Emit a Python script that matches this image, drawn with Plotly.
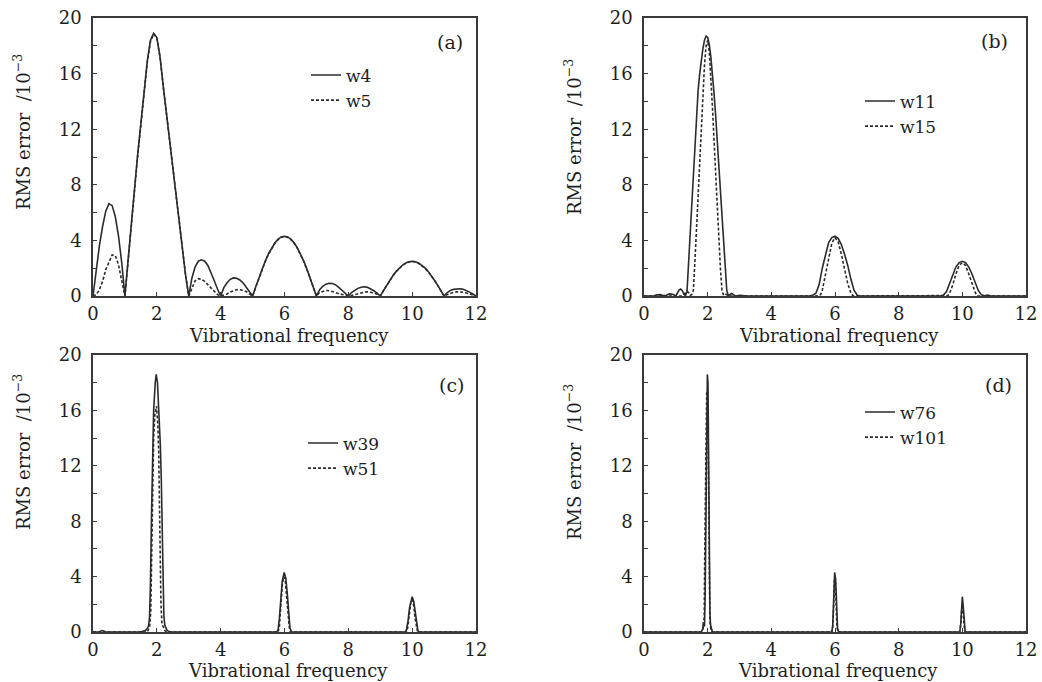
import numpy as np
import plotly.graph_objects as go
from plotly.subplots import make_subplots

# ---------------- data ----------------
# (a) sampled on a regular 0.1 frequency grid
FREQ_GRID = np.round(np.arange(0, 12.01, 0.1), 1)

W4 = [
    0, 1.9, 3.6, 5.0, 6.1, 6.65, 6.5, 5.7, 4.3, 2.4, 0,
    2.6, 5.3, 7.9, 10.2, 12.4, 14.6, 16.9, 18.4, 18.9, 18.6,
    17.2, 15.1, 13.1, 11.1, 9.2, 7.3, 5.3, 3.4, 1.5, 0,
    1.3, 2.1, 2.5, 2.6, 2.5, 2.2, 1.7, 1.1, 0.5, 0,
    0.6, 0.95, 1.2, 1.3, 1.28, 1.15, 0.95, 0.65, 0.3, 0,
    0.67, 1.33, 1.95, 2.53, 3.04, 3.48, 3.83, 4.09, 4.25, 4.3,
    4.25, 4.09, 3.83, 3.48, 3.04, 2.53, 1.95, 1.33, 0.67, 0,
    0.45, 0.7, 0.85, 0.92, 0.9, 0.8, 0.62, 0.42, 0.2, 0,
    0.25, 0.42, 0.55, 0.63, 0.66, 0.62, 0.52, 0.38, 0.2, 0,
    0.39, 0.77, 1.13, 1.47, 1.77, 2.02, 2.23, 2.38, 2.47, 2.5,
    2.47, 2.38, 2.23, 2.02, 1.77, 1.47, 1.13, 0.77, 0.39, 0,
    0.25, 0.4, 0.48, 0.52, 0.52, 0.48, 0.4, 0.28, 0.14, 0,
]
W5 = [
    0, 0.1, 0.45, 1.05, 1.9, 2.5, 2.95, 2.9, 2.25, 1.1, 0,
    2.5, 5.2, 7.8, 10.1, 12.3, 14.5, 16.8, 18.3, 18.85, 18.55,
    17.2, 15.1, 13.1, 11.1, 9.2, 7.3, 5.3, 3.4, 1.5, 0,
    0.6, 1.1, 1.25, 1.2, 1.05, 0.8, 0.55, 0.3, 0.1, 0,
    0.05, 0.15, 0.28, 0.38, 0.45, 0.47, 0.42, 0.32, 0.15, 0,
    0.65, 1.3, 1.92, 2.5, 3.0, 3.44, 3.8, 4.06, 4.22, 4.27,
    4.22, 4.06, 3.8, 3.44, 3.0, 2.5, 1.92, 1.3, 0.65, 0,
    0.25, 0.35, 0.4, 0.38, 0.33, 0.25, 0.17, 0.1, 0.04, 0,
    0.04, 0.1, 0.17, 0.24, 0.28, 0.3, 0.28, 0.22, 0.12, 0,
    0.38, 0.76, 1.12, 1.46, 1.76, 2.0, 2.2, 2.35, 2.45, 2.48,
    2.45, 2.35, 2.2, 2.0, 1.76, 1.46, 1.12, 0.76, 0.38, 0,
    0.1, 0.2, 0.27, 0.3, 0.3, 0.27, 0.22, 0.15, 0.07, 0,
]

# (b)-(d) as (frequency, error) pairs
W11 = [
    (0, 0), (0.3, 0), (0.4, 0.08), (0.5, 0.1), (0.6, 0.03), (0.7, 0.05), (0.8, 0.15),
    (0.9, 0.12), (1.0, 0), (1.05, 0.2), (1.1, 0.42), (1.15, 0.5), (1.2, 0.4), (1.25, 0.15),
    (1.3, 0.02), (1.35, 0.3), (1.4, 2.4), (1.45, 4.9), (1.5, 7.3), (1.55, 9.4), (1.6, 11.4),
    (1.65, 13.2), (1.7, 14.8), (1.75, 16.0), (1.8, 17.0), (1.85, 17.8), (1.9, 18.4),
    (1.95, 18.7), (2.0, 18.6), (2.05, 18.1), (2.1, 17.2), (2.15, 16.1), (2.2, 14.6),
    (2.25, 13.0), (2.3, 11.2), (2.35, 9.5), (2.4, 7.7), (2.45, 5.8), (2.5, 3.9), (2.55, 1.9),
    (2.6, 0.4), (2.65, 0.02), (2.7, 0.12), (2.75, 0.18), (2.8, 0.12), (2.85, 0.02), (2.9, 0),
    (3.0, 0.05), (3.1, 0.04), (3.2, 0),
    (5.2, 0), (5.3, 0.05), (5.4, 0.2), (5.5, 0.8), (5.6, 2.0), (5.7, 3.0), (5.8, 3.85),
    (5.9, 4.2), (6.0, 4.3), (6.1, 4.15), (6.2, 3.7), (6.3, 3.0), (6.4, 2.2), (6.5, 1.2),
    (6.6, 0.4), (6.7, 0.05), (6.8, 0),
    (9.3, 0), (9.4, 0.05), (9.5, 0.3), (9.6, 0.9), (9.7, 1.5), (9.8, 2.1), (9.9, 2.4),
    (10.0, 2.5), (10.1, 2.4), (10.2, 2.1), (10.3, 1.6), (10.4, 1.0), (10.5, 0.4),
    (10.6, 0.08), (10.7, 0.02), (10.8, 0.06), (10.9, 0), (12, 0),
]
W15 = [
    (0, 0), (1.2, 0), (1.25, 0.1), (1.3, 0.25), (1.35, 0.35), (1.4, 0.25), (1.45, 0.05),
    (1.5, 0.1), (1.55, 0.4), (1.6, 2.5), (1.65, 5.0), (1.7, 7.6), (1.75, 10.0), (1.8, 12.4),
    (1.85, 14.6), (1.9, 16.6), (1.95, 18.0), (2.0, 18.4), (2.05, 17.6), (2.1, 15.8),
    (2.15, 13.6), (2.2, 11.2), (2.25, 8.8), (2.3, 6.4), (2.35, 4.1), (2.4, 2.0), (2.45, 0.4),
    (2.5, 0.05), (2.55, 0.12), (2.6, 0.1), (2.65, 0.02), (2.7, 0),
    (5.4, 0), (5.5, 0.05), (5.55, 0.1), (5.6, 0.4), (5.7, 1.5), (5.8, 2.8), (5.9, 3.8),
    (6.0, 4.2), (6.1, 3.9), (6.2, 3.0), (6.3, 1.9), (6.4, 0.9), (6.5, 0.2), (6.55, 0.05), (6.6, 0),
    (9.5, 0), (9.55, 0.03), (9.6, 0.2), (9.7, 0.8), (9.8, 1.6), (9.9, 2.2), (10.0, 2.4),
    (10.1, 2.2), (10.2, 1.6), (10.3, 0.9), (10.4, 0.3), (10.45, 0.05), (10.5, 0), (12, 0),
]
W39 = [
    (0, 0), (0.2, 0), (0.25, 0.08), (0.3, 0.1), (0.35, 0.05), (0.4, 0),
    (1.5, 0), (1.6, 0.05), (1.65, 0.12), (1.7, 0.25), (1.74, 0.45), (1.77, 1.0), (1.8, 3.5),
    (1.83, 8.0), (1.86, 12.0), (1.9, 16.0), (1.95, 18.0), (1.98, 18.6), (2.02, 18.0),
    (2.07, 16.0), (2.11, 13.5), (2.14, 11.0), (2.16, 8.0), (2.19, 4.0), (2.22, 1.2),
    (2.25, 0.5), (2.28, 0.3), (2.32, 0.12), (2.38, 0.03), (2.45, 0),
    (5.75, 0), (5.8, 0.15), (5.84, 1.0), (5.88, 2.4), (5.93, 3.7), (5.99, 4.3), (6.04, 3.9),
    (6.09, 2.7), (6.13, 1.4), (6.17, 0.3), (6.22, 0),
    (9.78, 0), (9.82, 0.15), (9.87, 0.8), (9.92, 1.8), (9.97, 2.45), (10.0, 2.55),
    (10.05, 2.2), (10.1, 1.4), (10.14, 0.5), (10.18, 0.1), (10.22, 0), (12, 0),
]
W51 = [
    (0, 0), (1.7, 0), (1.74, 0.2), (1.78, 0.5), (1.81, 1.5), (1.84, 5.0), (1.87, 10.0),
    (1.9, 14.0), (1.94, 15.8), (1.99, 16.3), (2.03, 15.0), (2.06, 13.0), (2.08, 9.5),
    (2.1, 6.0), (2.13, 2.0), (2.16, 0.6), (2.2, 0.3), (2.25, 0.1), (2.3, 0),
    (5.8, 0), (5.84, 0.4), (5.88, 1.8), (5.93, 3.4), (5.98, 4.0), (6.03, 3.6), (6.08, 2.2),
    (6.12, 0.8), (6.16, 0.1), (6.2, 0),
    (9.82, 0), (9.86, 0.3), (9.91, 1.3), (9.96, 2.2), (10.0, 2.35), (10.05, 1.9),
    (10.09, 1.0), (10.13, 0.3), (10.17, 0), (12, 0),
]
W76 = [
    (0, 0), (1.8, 0), (1.84, 0.2), (1.87, 0.7), (1.9, 0.4), (1.92, 2.5), (1.95, 9.0),
    (1.97, 15.5), (1.99, 18.6), (2.01, 18.0), (2.03, 12.0), (2.05, 5.0), (2.07, 1.5),
    (2.09, 0.5), (2.12, 0.3), (2.15, 0),
    (5.9, 0), (5.93, 0.5), (5.96, 2.5), (5.99, 4.3), (6.02, 3.8), (6.05, 1.5), (6.08, 0.3), (6.11, 0),
    (9.92, 0), (9.95, 0.6), (9.98, 2.2), (10.0, 2.55), (10.03, 1.8), (10.06, 0.4), (10.09, 0),
    (12, 0),
]
W101 = [
    (0, 0), (1.82, 0), (1.86, 0.3), (1.89, 1.0), (1.91, 6.0), (1.94, 13.8), (1.97, 17.3),
    (2.0, 17.4), (2.02, 11.0), (2.05, 3.7), (2.07, 0.9), (2.1, 0.2), (2.13, 0),
    (5.9, 0), (5.93, 0.4), (5.96, 2.0), (5.98, 3.7), (6.01, 3.7), (6.03, 2.0), (6.06, 0.4), (6.09, 0),
    (9.92, 0), (9.95, 0.5), (9.98, 1.6), (10.01, 1.8), (10.04, 0.8), (10.07, 0.1), (10.09, 0),
    (12, 0),
]

X_TICKS = [0, 2, 4, 6, 8, 10, 12]
Y_TICKS = [0, 4, 8, 12, 16, 20]
PANEL_TAGS = ["(a)", "(b)", "(c)", "(d)"]
X_TITLE = "Vibrational frequency"
Y_TITLE = "RMS error  /10<sup>−3</sup>"

# ---------------- styling ----------------
W, H = 1042, 682
FONT = "DejaVu Serif"
INK = "#2b2b2b"
TEXT = "#1e1e1e"
LINE_W = 1.6
DOT = "3px,2px"


def px_x(v):
    return v / W


def px_y(v):
    return 1 - v / H


fig = make_subplots(rows=2, cols=2)

panels = [
    # (row, col, [(name, xs, ys, dash)], legend id)
    (1, 1, [("w4", FREQ_GRID, W4, "solid"), ("w5", FREQ_GRID, W5, DOT)], "legend"),
    (1, 2, [("w11", [p[0] for p in W11], [p[1] for p in W11], "solid"),
            ("w15", [p[0] for p in W15], [p[1] for p in W15], DOT)], "legend2"),
    (2, 1, [("w39", [p[0] for p in W39], [p[1] for p in W39], "solid"),
            ("w51", [p[0] for p in W51], [p[1] for p in W51], DOT)], "legend3"),
    (2, 2, [("w76", [p[0] for p in W76], [p[1] for p in W76], "solid"),
            ("w101", [p[0] for p in W101], [p[1] for p in W101], DOT)], "legend4"),
]

for row, col, series, leg in panels:
    for name, xs, ys, dash in series:
        fig.add_trace(
            go.Scatter(
                x=list(xs), y=list(ys), mode="lines", name=name,
                line=dict(color=INK, width=LINE_W, dash=dash),
                legend=leg, showlegend=True, hoverinfo="skip",
            ),
            row=row, col=col,
        )

# plot-area placement (pixels: left, right, top, bottom)
boxes = [(93, 476, 18, 296), (644, 1026, 18, 296), (93, 476, 355, 632), (644, 1026, 355, 632)]
axis_ids = ["", "2", "3", "4"]

axis_common = dict(
    showline=True, linecolor="#3a3a3a", linewidth=1.5, mirror=True,
    ticks="inside", ticklen=4, tickwidth=1.2, tickcolor="#3a3a3a",
    showgrid=False, zeroline=False, automargin=False,
    tickfont=dict(family=FONT, size=18, color=TEXT),
)

for aid, (l, r, t, b) in zip(axis_ids, boxes):
    fig.layout["xaxis" + aid].update(
        domain=[px_x(l), px_x(r)], range=[0, 12], tickvals=X_TICKS,
        ticklabelstandoff=1, **axis_common,
    )
    fig.layout["yaxis" + aid].update(
        domain=[px_y(b), px_y(t)], range=[0, 20], tickvals=Y_TICKS,
        minor=dict(dtick=2, ticks="inside", ticklen=4, tickcolor="#3a3a3a", showgrid=False),
        ticklabelstandoff=6, **axis_common,
    )

annotations = []
# x titles (anchored by their bottom edge)
for cx, by in [(289, 347), (839, 347), (288, 682), (838, 682)]:
    annotations.append(dict(
        x=px_x(cx), y=px_y(by), xref="paper", yref="paper", text=X_TITLE,
        showarrow=False, xanchor="center", yanchor="bottom", borderpad=0,
        font=dict(family=FONT, size=18, color=TEXT),
    ))
# y titles
for cx, cy in [(22, 132), (573, 137), (22, 452), (573, 462)]:
    annotations.append(dict(
        x=px_x(cx), y=px_y(cy), xref="paper", yref="paper", text=Y_TITLE,
        showarrow=False, textangle=-90, xanchor="center", yanchor="middle",
        font=dict(family=FONT, size=18, color=TEXT),
    ))
# panel tags
for tag, (cx, cy) in zip(PANEL_TAGS, [(450, 42), (994, 41), (451, 385), (998, 385)]):
    annotations.append(dict(
        x=px_x(cx), y=px_y(cy), xref="paper", yref="paper", text=tag,
        showarrow=False, xanchor="center", yanchor="middle",
        font=dict(family=FONT, size=19, color=TEXT),
    ))

legend_style = dict(
    bgcolor="rgba(0,0,0,0)", borderwidth=0, xanchor="left", yanchor="middle",
    font=dict(family=FONT, size=17, color=TEXT), tracegroupgap=0,
)
# legend centres (pixels)
legend_pos = {"legend": (306, 88), "legend2": (860, 114), "legend3": (303, 456), "legend4": (860, 425)}

fig.update_layout(
    width=W, height=H,
    margin=dict(l=0, r=0, t=0, b=0, autoexpand=False),
    paper_bgcolor="white", plot_bgcolor="white",
    annotations=annotations,
    showlegend=True,
)
for leg, (lx, ly) in legend_pos.items():
    fig.layout[leg] = dict(x=px_x(lx), y=px_y(ly), **legend_style)

fig.write_html("out.html")
